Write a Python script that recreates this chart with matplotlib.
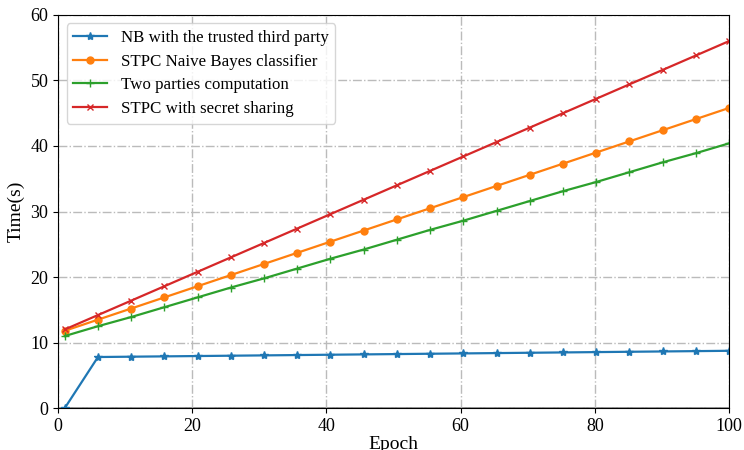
import matplotlib
matplotlib.use('Agg')
import matplotlib.pyplot as plt

plt.rcParams['font.family'] = ['Liberation Serif', 'DejaVu Serif']

epoch = [1, 5.95, 10.9, 15.85, 20.8, 25.75, 30.7, 35.65, 40.6, 45.55, 50.5,
         55.45, 60.4, 65.35, 70.3, 75.25, 80.2, 85.15, 90.1, 95.05, 100]

nb_trusted = [0, 7.8, 7.85, 7.9, 7.95, 8.0, 8.05, 8.1, 8.15, 8.2, 8.25,
              8.3, 8.35, 8.4, 8.45, 8.5, 8.55, 8.6, 8.65, 8.7, 8.75]
stpc_nb = [11.8, 13.5, 15.2, 16.9, 18.6, 20.3, 22.0, 23.7, 25.4, 27.1, 28.8,
           30.5, 32.2, 33.9, 35.6, 37.3, 39.0, 40.7, 42.4, 44.1, 45.8]
two_party = [11.0, 12.5, 13.9, 15.4, 16.9, 18.4, 19.8, 21.3, 22.8, 24.2, 25.7,
             27.2, 28.6, 30.1, 31.6, 33.1, 34.5, 36.0, 37.5, 38.9, 40.4]
stpc_ss = [12.0, 14.2, 16.4, 18.6, 20.8, 23.0, 25.2, 27.4, 29.6, 31.8, 34.0,
           36.2, 38.4, 40.6, 42.8, 45.0, 47.2, 49.4, 51.6, 53.8, 56.0]

fig = plt.figure(figsize=(7.44, 4.5), dpi=100)
ax = fig.add_axes([0.078, 0.093, 0.902, 0.874])

ax.plot(epoch, nb_trusted, '-*', color='#1f77b4', lw=1.6, ms=6, label='NB with the trusted third party')
ax.plot(epoch, stpc_nb, '-o', color='#ff7f0e', lw=1.6, ms=5, label='STPC Naive Bayes classifier')
ax.plot(epoch, two_party, '-+', color='#2ca02c', lw=1.6, ms=6, label='Two parties computation')
ax.plot(epoch, stpc_ss, '-x', color='#d62728', lw=1.6, ms=5, label='STPC with secret sharing')

ax.axhline(0, color='#888888', lw=2, zorder=1)
ax.set_xlim(0, 100)
ax.set_ylim(0, 60)
ax.set_xticks(range(0, 101, 20))
ax.set_yticks(range(0, 61, 10))
ax.tick_params(labelsize=13)
ax.grid(True, linestyle='-.', color='#bbbbbb', lw=1)
ax.set_xlabel('Epoch', fontsize=14, labelpad=1)
ax.set_ylabel('Time(s)', fontsize=14)
ax.legend(loc='upper left', fontsize=12.2, handlelength=2.0, borderaxespad=0.5,
          labelspacing=0.45)

fig.savefig('out.png', dpi=100)
